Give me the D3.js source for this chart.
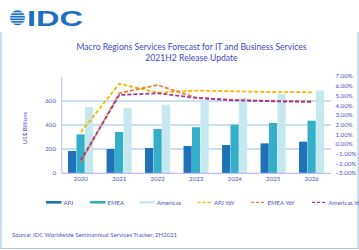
<!DOCTYPE html>
<html><head><meta charset="utf-8">
<script src="https://cdn.jsdelivr.net/npm/d3@7/dist/d3.min.js"></script>
<style>html,body{margin:0;padding:0;background:#fff;overflow:hidden}svg{display:block}</style>
</head><body>
<svg id="c" width="359" height="250"></svg>
<script>
const years = ["2020","2021","2022","2023","2024","2025","2026"];
const apj = [183, 200, 208, 225, 233, 247, 261];
const emea = [322, 342, 367, 381, 403, 417, 436];
const americas = [550, 542, 569, 600, 628, 658, 686];
const apjYoY = [1.2, 6.2, 5.28, 5.5, 5.42, 5.35, 5.32];
const emeaYoY = [-1.9, 5.22, 6.07, 4.76, 4.53, 4.45, 4.4];
const americasYoY = [-1.7, 5.04, 5.22, 4.74, 4.49, 4.39, 4.32];
const leftTicks = [0, 200, 400, 600];
const rightTicks = [7, 6, 5, 4, 3, 2, 1, 0, -1, -2, -3];
const barSeries = ["APJ", "EMEA", "Americas"];
const lineSeries = ["APJ YoY", "EMEA YoY", "Americas YoY"];

const barColors = ["#1f72b8", "#33afc9", "#c6e9ef"];
const lineColors = ["#f6b700", "#ef7d2e", "#9b3c99"];
const txt = "#5252c8";
const FONT = "Lato, 'Open Sans', sans-serif";

const svg = d3.select("#c");

// frame
svg.append("path").attr("d","M1,32 V248.5 H358 V32").attr("fill","none").attr("stroke","#a9c7e6").attr("stroke-width",1.2);

// logo
const g0 = svg.append("g");
g0.append("circle").attr("cx",17.5).attr("cy",17.8).attr("r",7.5).attr("fill","#1d6fc0");
[12.2,14.8,17.4,20,22.6].forEach(y=>g0.append("line").attr("x1",9).attr("x2",26).attr("y1",y+0.6).attr("y2",y+0.6).attr("stroke","#fff").attr("stroke-width",0.9));
g0.append("rect").attr("x",9).attr("y",17).attr("width",9).attr("height",0.01).attr("fill","#fff");
g0.append("text").attr("x",27).attr("y",26.3).text("IDC").attr("font-family","'Liberation Sans', Arial, sans-serif")
  .attr("font-size",22.5).attr("font-weight","bold").attr("fill","#1d6fc0").attr("textLength",56).attr("lengthAdjust","spacingAndGlyphs");

// title
svg.append("text").attr("x",191.5).attr("y",49.5).attr("text-anchor","middle").attr("font-family",FONT).attr("font-size",8.6).attr("fill","#4646c4")
  .text("Macro Regions Services Forecast for IT and Business Services");
svg.append("text").attr("x",191.5).attr("y",60.5).attr("text-anchor","middle").attr("font-family",FONT).attr("font-size",8.6).attr("fill","#4646c4")
  .text("2021H2 Release Update");

const x0 = d3.scaleBand().domain(years).range([61.5, 331]).paddingInner(0.34).paddingOuter(0.17);
const x1 = d3.scaleBand().domain(barSeries).range([0, x0.bandwidth()]).padding(0);
const yL = d3.scaleLinear().domain([0, 800]).range([173, 77]);
const yR = d3.scaleLinear().domain([-3, 7]).range([173, 76]);

// gridlines
svg.append("g").selectAll("line").data(leftTicks.filter(d=>d>0)).join("line")
  .attr("x1",61.5).attr("x2",331).attr("y1",d=>yL(d)).attr("y2",d=>yL(d)).attr("stroke","#b7d3ea").attr("stroke-width",1.6);

// bars
const barData = [apj, emea, americas];
barSeries.forEach((s,i)=>{
  svg.append("g").selectAll("rect").data(years).join("rect")
    .attr("x",d=>x0(d)+x1(s)).attr("width",x1.bandwidth()-0.3)
    .attr("y",(d,j)=>yL(barData[i][j])).attr("height",(d,j)=>yL(0)-yL(barData[i][j]))
    .attr("fill",barColors[i]);
});

// axes lines
svg.append("line").attr("x1",61.7).attr("x2",61.7).attr("y1",77).attr("y2",173).attr("stroke","#b7d3ea").attr("stroke-width",1.2);
svg.append("line").attr("x1",61.5).attr("x2",331).attr("y1",173.3).attr("y2",173.3).attr("stroke","#bcbcf2").attr("stroke-width",1.2);

// left ticks
const axL = d3.axisLeft(yL).tickValues(leftTicks).tickSize(0).tickPadding(6);
const gL = svg.append("g").attr("transform","translate(62,0)").call(axL);
gL.select(".domain").remove();
gL.selectAll("text").attr("font-family",FONT).attr("font-size",6.2).attr("fill",txt);

// right ticks
const axR = d3.axisRight(yR).tickValues(rightTicks).tickSize(0).tickPadding(0).tickFormat(d=>d3.format(".2f")(d)+"%");
const gR = svg.append("g").attr("transform","translate(335.5,0)").call(axR);
gR.select(".domain").remove();
gR.selectAll("text").attr("font-family",FONT).attr("font-size",6.2).attr("fill",txt);

// bottom
const axB = d3.axisBottom(x0).tickSize(0).tickPadding(4);
const gB = svg.append("g").attr("transform","translate(0,173)").call(axB);
gB.select(".domain").remove();
gB.selectAll("text").attr("font-family",FONT).attr("font-size",6.2).attr("fill",txt);

// y label
svg.append("text").attr("transform","translate(27,128) rotate(-90)").attr("text-anchor","middle").attr("font-family",FONT)
  .attr("font-size",6.2).attr("fill",txt).text("US$ Billions");

// lines
const lineData = [apjYoY, emeaYoY, americasYoY];
const line = d3.line().x((d,i)=>x0(years[i])+x0.bandwidth()/2).y(d=>yR(d));
lineData.forEach((arr,i)=>{
  svg.append("path").datum(arr).attr("d",line).attr("fill","none").attr("stroke",lineColors[i])
    .attr("stroke-width",1.8).attr("stroke-dasharray","4,2");
});

// legend
const legItems = [
  {name:barSeries[0], x:46, c:barColors[0], t:"bar"},
  {name:barSeries[1], x:90, c:barColors[1], t:"bar"},
  {name:barSeries[2], x:139.3, c:barColors[2], t:"bar"},
  {name:lineSeries[0], x:197.5, c:lineColors[0], t:"line"},
  {name:lineSeries[1], x:251, c:lineColors[1], t:"line"},
  {name:lineSeries[2], x:312, c:lineColors[2], t:"line"}
];
legItems.forEach(it=>{
  if(it.t==="bar"){
    svg.append("rect").attr("x",it.x).attr("y",201).attr("width",15.5).attr("height",2.6).attr("fill",it.c);
  } else {
    svg.append("line").attr("x1",it.x).attr("x2",it.x+13).attr("y1",202.3).attr("y2",202.3).attr("stroke",it.c).attr("stroke-width",1.3).attr("stroke-dasharray","3.2,1.8");
  }
  svg.append("text").attr("x",it.x+(it.t==="bar"?17.5:16.5)).attr("y",204.5).attr("font-family",FONT).attr("font-size",6).attr("fill",txt).text(it.name);
});

// source
svg.append("text").attr("x",12).attr("y",236.5).attr("font-family",FONT).attr("font-size",6).attr("fill",txt)
  .text("Source:  IDC Worldwide Seminannual Services Tracker, 2H2021");
</script>
</body></html>
